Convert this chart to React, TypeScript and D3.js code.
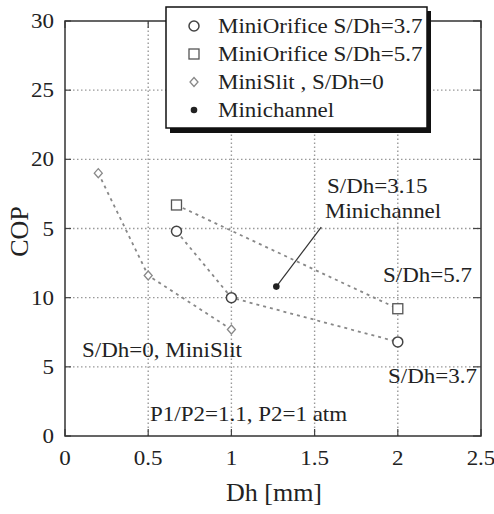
import { scaleLinear, line } from 'd3';

// COP vs hydraulic diameter
const slitDh = [0.2, 0.5, 1];
const slitCop = [19, 11.6, 7.7];
const orif37Dh = [0.67, 1, 2];
const orif37Cop = [14.8, 10, 6.8];
const orif57Dh = [0.67, 2];
const orif57Cop = [16.7, 9.2];
const chanDh = [1.27];
const chanCop = [10.8];

const xTicks = [0, 0.5, 1, 1.5, 2, 2.5];
const xTickLabels = ['0', '0.5', '1', '1.5', '2', '2.5'];
const yTicks = [0, 5, 10, 15, 20, 25, 30];
const yTickLabels = ['0', '5', '10', '5', '20', '25', '30'];

const legendLabels = ['MiniOrifice S/Dh=3.7', 'MiniOrifice S/Dh=5.7', 'MiniSlit , S/Dh=0', 'Minichannel'];
const legendShapes = ['circle', 'square', 'diamond', 'dot'];

// pointer from the minichannel point to its note
const pointerDh = [1.27, 1.54];
const pointerCop = [10.8, 15.1];

const W = 494;
const H = 514;
const FONT = 'Liberation Serif, Times New Roman, Tinos, DejaVu Serif, serif';
const SX = 1.15;

function T({ x, y, anchor = 'start', size = 20, sx = SX, children }: any) {
  return (
    <text
      transform={`translate(${x},${y}) scale(${sx},1)`}
      textAnchor={anchor}
      style={{ fontFamily: FONT, fontSize: size }}
      fill="#222"
    >
      {children}
    </text>
  );
}

function Marker({ shape, cx, cy }: any) {
  if (shape === 'circle')
    return <circle cx={cx} cy={cy} r={5} fill="#fff" stroke="#444" strokeWidth={1.5} />;
  if (shape === 'square')
    return <rect x={cx - 5} y={cy - 5} width={10} height={10} fill="#fff" stroke="#555" strokeWidth={1.3} />;
  if (shape === 'diamond')
    return (
      <path
        d={`M${cx},${cy - 4.5}L${cx + 4},${cy}L${cx},${cy + 4.5}L${cx - 4},${cy}Z`}
        fill="#fff"
        stroke="#888"
        strokeWidth={1.3}
      />
    );
  return <circle cx={cx} cy={cy} r={3.3} fill="#222" />;
}

export default function App() {
  const x = scaleLinear().domain([0, 2.5]).range([65, 481]);
  const y = scaleLinear().domain([0, 30]).range([436, 21]);

  const seriesPath = (xs: number[], ys: number[]) =>
    line<number>()
      .x((d) => x(d))
      .y((_, i) => y(ys[i]))(xs) as string;

  const series = [
    { xs: orif37Dh, ys: orif37Cop, shape: 'circle' },
    { xs: orif57Dh, ys: orif57Cop, shape: 'square' },
    { xs: slitDh, ys: slitCop, shape: 'diamond' },
  ];

  const x0 = x(0), x1 = x(2.5), y0 = y(0), y1 = y(30);

  return (
    <svg width={W} height={H} style={{ position: 'absolute', left: 0, top: 0, background: '#fff' }}>
      <rect width={W} height={H} fill="#fff" />

      {/* grid */}
      {xTicks.slice(1, -1).map((t) => (
        <line key={'gx' + t} x1={x(t)} x2={x(t)} y1={y0} y2={y1} stroke="#999" strokeWidth={1.4} strokeDasharray="1.5,2.5" />
      ))}
      {yTicks.slice(1, -1).map((t) => (
        <line key={'gy' + t} x1={x0} x2={x1} y1={y(t)} y2={y(t)} stroke="#999" strokeWidth={1.4} strokeDasharray="1.5,2.5" />
      ))}

      {/* inner ticks */}
      {xTicks.map((t) => (
        <g key={'tx' + t} stroke="#444" strokeWidth={1.2}>
          <line x1={x(t)} x2={x(t)} y1={y0} y2={y0 - 7} />
          <line x1={x(t)} x2={x(t)} y1={y1} y2={y1 + 7} />
        </g>
      ))}
      {yTicks.map((t) => (
        <g key={'ty' + t} stroke="#444" strokeWidth={1.2}>
          <line x1={x0} x2={x0 + 6} y1={y(t)} y2={y(t)} />
          <line x1={x1} x2={x1 - 8} y1={y(t)} y2={y(t)} />
        </g>
      ))}

      <rect x={x0} y={y1} width={x1 - x0} height={y0 - y1} fill="none" stroke="#333" strokeWidth={1.5} />

      {/* tick labels */}
      {xTicks.map((t, i) => (
        <T key={'lx' + t} x={x(t)} y={y0 + 29} anchor="middle">
          {xTickLabels[i]}
        </T>
      ))}
      {yTicks.map((t, i) => (
        <T key={'ly' + t} x={x0 - 11} y={y(t) + 7} anchor="end">
          {yTickLabels[i]}
        </T>
      ))}

      {/* axis titles */}
      <T x={(x0 + x1) / 2 + 1} y={501} anchor="middle" size={26} sx={1}>
        Dh [mm]
      </T>
      <text
        transform={`translate(28,${(y0 + y1) / 2 + 3}) rotate(-90)`}
        textAnchor="middle"
        style={{ fontFamily: FONT, fontSize: 26 }}
        fill="#222"
      >
        COP
      </text>

      {/* series */}
      {series.map((s) => (
        <path key={'p' + s.shape} d={seriesPath(s.xs, s.ys)} fill="none" stroke="#888" strokeWidth={1.8} strokeDasharray="3,4" />
      ))}
      <path d={seriesPath(pointerDh, pointerCop)} fill="none" stroke="#333" strokeWidth={1.2} />
      {series.map((s) =>
        s.xs.map((d, i) => <Marker key={s.shape + i} shape={s.shape} cx={x(d)} cy={y(s.ys[i])} />)
      )}
      {chanDh.map((d, i) => (
        <Marker key={'ch' + i} shape="dot" cx={x(d)} cy={y(chanCop[i])} />
      ))}

      {/* notes */}
      <T x={327} y={193}>S/Dh=3.15</T>
      <T x={325} y={218}>Minichannel</T>
      <T x={383} y={282}>S/Dh=5.7</T>
      <T x={388} y={383}>S/Dh=3.7</T>
      <T x={82} y={357}>S/Dh=0, MiniSlit</T>
      <T x={150} y={421}>P1/P2=1.1, P2=1 atm</T>

      {/* legend */}
      <rect x={170} y={11} width={261} height={122} fill="#111" />
      <rect x={166} y={7} width={261} height={121} fill="#fff" stroke="#111" strokeWidth={1.5} />
      {legendLabels.map((lab, i) => (
        <g key={lab}>
          <Marker shape={legendShapes[i]} cx={194} cy={26 + i * 28} />
          <T x={218} y={33 + i * 28}>
            {lab}
          </T>
        </g>
      ))}
    </svg>
  );
}
